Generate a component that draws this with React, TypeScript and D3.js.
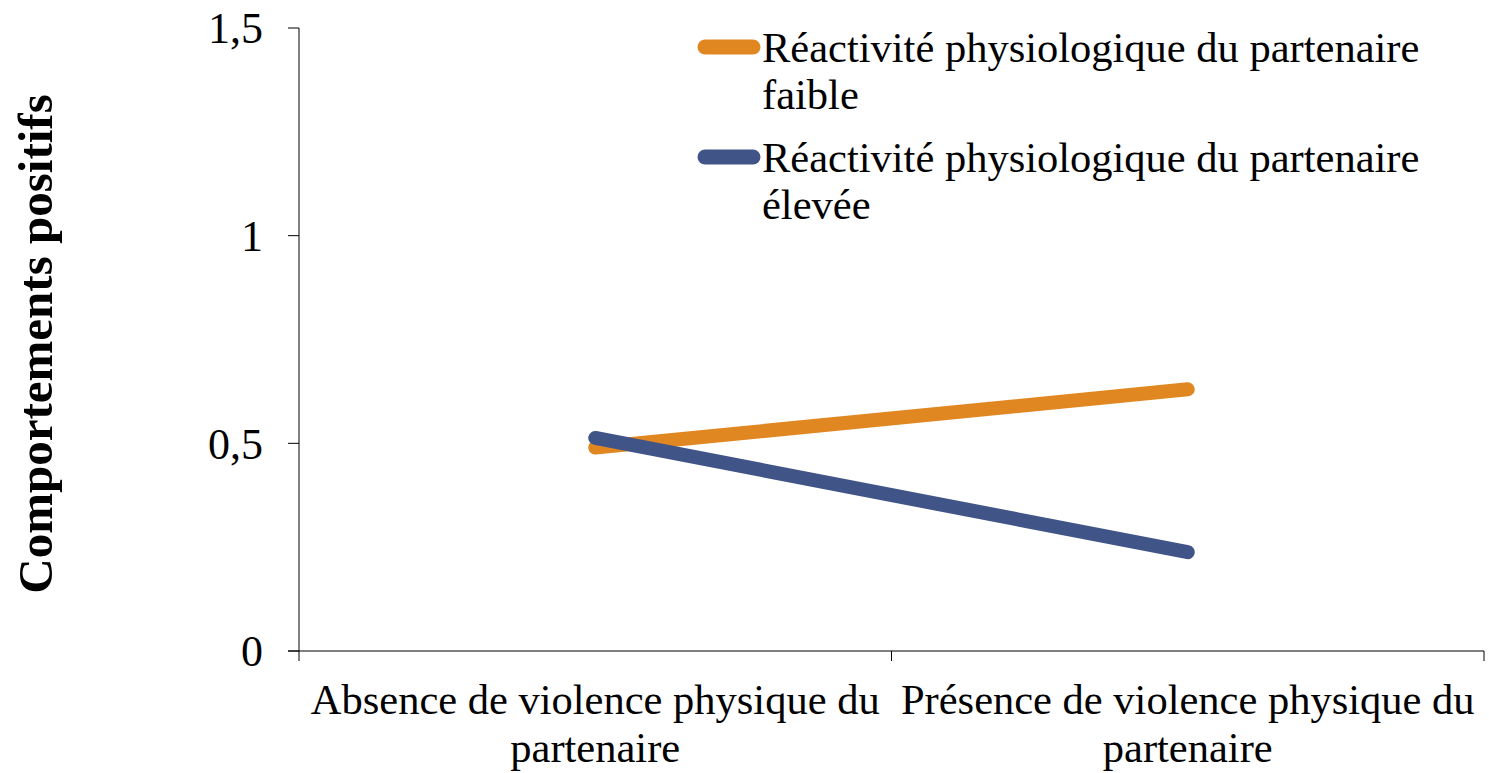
import React from "react";
import * as d3 from "d3";

const categories = ["Absence", "Présence"];
const categoryLabels = [
  ["Absence de violence physique du", "partenaire"],
  ["Présence de violence physique du", "partenaire"],
];
const faibleValues = [0.49, 0.63];
const eleveeValues = [0.513, 0.238];
const yTicks = [0, 0.5, 1, 1.5];
const yTickLabels = ["0", "0,5", "1", "1,5"];
const seriesNames = [
  ["Réactivité physiologique du partenaire", "faible"],
  ["Réactivité physiologique du partenaire", "élevée"],
];
const seriesColors = ["#E08722", "#405487"];

const W = 1489;
const H = 773;
const margin = { left: 299, right: 5, top: 28, bottom: 122 };
const font = "'Liberation Serif', 'Times New Roman', serif";

export default function App() {
  const x = d3
    .scaleBand()
    .domain(categories)
    .range([margin.left, W - margin.right]);
  const y = d3
    .scaleLinear()
    .domain([0, 1.5])
    .range([H - margin.bottom, margin.top]);

  const line = d3
    .line<number>()
    .x((_, i) => (x(categories[i]) as number) + x.bandwidth() / 2)
    .y((d) => y(d));

  const series = [faibleValues, eleveeValues];
  const y0 = y(0);
  const tickEdges = [...categories.map((c) => x(c) as number), W - margin.right];

  return (
    <svg width={W} height={H} style={{ position: "absolute", left: 0, top: 0 }} fontFamily={font}>
      <rect width={W} height={H} fill="#fff" />
      {/* y axis */}
      <line x1={margin.left} x2={margin.left} y1={margin.top} y2={y0} stroke="#000" strokeWidth={1} />
      {yTicks.map((t, i) => (
        <g key={t}>
          <line x1={margin.left - 11} x2={margin.left} y1={y(t)} y2={y(t)} stroke="#000" />
          <text x={263} y={y(t)} dy="0.35em" textAnchor="end" fontSize={44}>
            {yTickLabels[i]}
          </text>
        </g>
      ))}
      {/* x axis */}
      <line x1={margin.left - 11} x2={W - margin.right} y1={y0} y2={y0} stroke="#000" />
      {tickEdges.map((e, i) => (
        <line key={i} x1={e} x2={e} y1={y0} y2={y0 + 10} stroke="#000" />
      ))}
      {categories.map((c, i) => (
        <text key={c} x={(x(c) as number) + x.bandwidth() / 2} y={714} textAnchor="middle" fontSize={42.5}>
          {categoryLabels[i].map((l, j) => (
            <tspan key={j} x={(x(c) as number) + x.bandwidth() / 2} dy={j === 0 ? 0 : 48}>
              {l}
            </tspan>
          ))}
        </text>
      ))}
      {/* lines */}
      {series.map((s, i) => (
        <path
          key={i}
          d={line(s) ?? ""}
          fill="none"
          stroke={seriesColors[i]}
          strokeWidth={14}
          strokeLinecap="round"
        />
      ))}
      {/* legend */}
      {seriesNames.map((n, i) => {
        const ly = 47 + i * 110;
        return (
          <g key={i}>
            <line x1={705} x2={753} y1={ly} y2={ly} stroke={seriesColors[i]} strokeWidth={15} strokeLinecap="round" />
            <text x={762} y={ly + 15} fontSize={42.5}>
              {n.map((l, j) => (
                <tspan key={j} x={762} dy={j === 0 ? 0 : 47}>
                  {l}
                </tspan>
              ))}
            </text>
          </g>
        );
      })}
      {/* y title */}
      <text
        transform={`translate(52, 344) rotate(-90)`}
        textAnchor="middle"
        fontSize={49}
        fontWeight="bold"
      >
        Comportements positifs
      </text>
    </svg>
  );
}
